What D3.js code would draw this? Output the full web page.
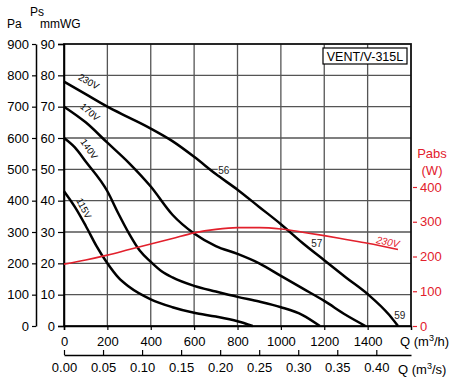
<!DOCTYPE html>
<html>
<head>
<meta charset="utf-8">
<script src="https://cdn.jsdelivr.net/npm/d3@7"></script>
<style>
  body { margin: 0; background: #fff; }
  svg { font-family: "Liberation Sans", Arial, sans-serif; }
</style>
</head>
<body>
<script>
// fan curves, Q in m3/h, Ps in mmWG
var curve230 = [[0,78],[100,74],[200,70],[300,66.5],[400,63],[500,59],[600,54],[700,48.5],[800,43.5],[900,38],[1000,32.5],[1100,26.5],[1200,21],[1300,15.5],[1400,10.2],[1500,3.5],[1540,0]];
var curve170 = [[0,70],[100,65],[200,58.5],[300,52],[400,44.5],[500,35.5],[600,29.5],[700,25.5],[800,23],[900,20],[1000,16],[1100,12],[1200,8],[1300,3.5],[1390,0]];
var curve140 = [[0,60],[50,57],[100,52.5],[200,43],[250,36],[300,29.5],[350,24],[400,20.5],[450,17.5],[500,15.5],[600,12.8],[700,11],[800,9.3],[900,7.8],[1000,6],[1100,3.5],[1180,0]];
var curve115 = [[0,43],[50,38],[100,32],[150,25.5],[200,20],[250,15.5],[300,12.5],[400,8.5],[500,6],[600,4.2],[700,3],[800,1.5],[870,0]];
// absorbed power at 230V, W
var pabs230 = [[0,178],[100,190],[200,204],[300,220],[400,236],[500,252],[600,268],[700,278],[800,283],[900,283],[1000,279],[1100,270],[1200,260],[1300,249],[1400,238],[1540,220]];

var qTicks = [0,200,400,600,800,1000,1200,1400];
var qsTicks = [0,0.05,0.10,0.15,0.20,0.25,0.30,0.35,0.40];
var psTicks = [0,10,20,30,40,50,60,70,80,90];
var paTicks = [0,100,200,300,400,500,600,700,800,900];
var wTicks = [0,100,200,300,400];

var voltLabels = [
  {t:'230V', q:114, p:78, a:30},
  {t:'170V', q:120, p:68.3, a:40},
  {t:'140V', q:116, p:56.5, a:55},
  {t:'115V', q:92, p:37.6, a:62}
];
var effLabels = [
  {t:'56', q:737, p:49.5},
  {t:'57', q:1166, p:26.2},
  {t:'59', q:1548, p:3.2}
];

var red = '#e2202c';
var svg = d3.select('body').append('svg')
    .attr('width', 450)
    .attr('height', 378);

var x = d3.scaleLinear().domain([0,1600]).range([64,411]);
var xs = d3.scaleLinear().domain([0,1600/3600]).range([64,411]);
var y = d3.scaleLinear().domain([0,90]).range([326,44]);
var yPa = d3.scaleLinear().domain([0,900]).range([326,44]);
var yW = d3.scaleLinear().domain([0,400]).range([326,187]);

// grid
var grid = svg.append('g');
grid.selectAll('.vg')
    .data(d3.range(200,1600,200))
    .enter().append('line')
    .attr('x1', function(d) {return x(d);})
    .attr('x2', function(d) {return x(d);})
    .attr('y1', y(0)).attr('y2', y(90))
    .style('stroke', '#555').style('stroke-width', 1.3);
grid.selectAll('.hg')
    .data(d3.range(10,90,10))
    .enter().append('line')
    .attr('y1', function(d) {return y(d);})
    .attr('y2', function(d) {return y(d);})
    .attr('x1', x(0)).attr('x2', x(1600))
    .style('stroke', '#555').style('stroke-width', 1.3);
grid.append('rect')
    .attr('x', x(0)).attr('y', y(90))
    .attr('width', x(1600) - x(0)).attr('height', y(0) - y(90))
    .style('fill', 'none').style('stroke', '#111').style('stroke-width', 1.8);

function styleAxis(g, color) {
  g.selectAll('path.domain').style('stroke', color).style('stroke-width', 1.5);
  g.selectAll('line').style('stroke', color).style('stroke-width', 1.2);
  g.selectAll('text').style('fill', color).style('font-size', '13px');
}

// mmWG axis
var gPs = svg.append('g').attr('transform', 'translate(' + x(0) + ',0)');
gPs.call(d3.axisLeft(y).tickValues(d3.range(0,91,2)).tickSize(3).tickFormat(''));
gPs.call(d3.axisLeft(y).tickValues(psTicks).tickSize(6).tickPadding(3).tickFormat(d3.format('d')));
styleAxis(gPs, '#000');

// Pa axis
var gPa = svg.append('g').attr('transform', 'translate(36,0)');
gPa.call(d3.axisLeft(yPa).tickValues(paTicks).tickSize(4).tickPadding(3).tickSizeOuter(0));
styleAxis(gPa, '#000');

// Q m3/h axis
var gQ = svg.append('g').attr('transform', 'translate(0,' + y(0) + ')');
gQ.call(d3.axisBottom(x).tickValues(d3.range(0,1601,50)).tickSize(3).tickFormat(''));
gQ.call(d3.axisBottom(x).tickValues(qTicks).tickSize(4).tickPadding(7).tickFormat(d3.format('d')));
styleAxis(gQ, '#000');

// Q m3/s axis
var gQs = svg.append('g').attr('transform', 'translate(0,355)');
gQs.call(d3.axisBottom(xs).tickValues(qsTicks).tickSize(-5).tickPadding(8).tickSizeOuter(0).tickFormat(d3.format('.2f')));
styleAxis(gQs, '#000');

// Pabs axis
var gW = svg.append('g').attr('transform', 'translate(413,0)');
gW.call(d3.axisRight(yW).tickValues(d3.range(0,401,20)).tickSize(2.5).tickFormat(''));
gW.call(d3.axisRight(yW).tickValues(wTicks).tickSize(4).tickPadding(3).tickFormat(d3.format('d')));
gW.selectAll('path.domain').remove();
styleAxis(gW, red);

// axis titles
function txt(t, px, py, opts) {
  opts = opts || {};
  return svg.append('text').attr('x', px).attr('y', py)
    .attr('text-anchor', opts.anchor || 'start')
    .style('font-size', (opts.size || 12) + 'px')
    .style('fill', opts.fill || '#000')
    .text(t);
}
txt('Ps', 30, 16);
txt('Pa', 7, 28);
txt('mmWG', 40, 28);
txt('Pabs', 432, 158, {anchor:'middle', fill:red, size:13});
txt('(W)', 432, 175, {anchor:'middle', fill:red, size:13});
svg.append('text').attr('x', 400).attr('y', 346).style('font-size', '13px')
  .html('Q (m<tspan dy="-5" font-size="9">3</tspan><tspan dy="5">/h)</tspan>');
svg.append('text').attr('x', 398).attr('y', 374).style('font-size', '13px')
  .html('Q (m<tspan dy="-5" font-size="9">3</tspan><tspan dy="5">/s)</tspan>');

// curves
var line = d3.line()
    .x(function(d) {return x(d[0]);})
    .y(function(d) {return y(d[1]);})
    .curve(d3.curveMonotoneX);
var wline = d3.line()
    .x(function(d) {return x(d[0]);})
    .y(function(d) {return yW(d[1]);})
    .curve(d3.curveMonotoneX);

svg.append('g').selectAll('.fan')
    .data([curve230, curve170, curve140, curve115])
    .enter().append('path')
    .attr('d', line)
    .style('fill', 'none').style('stroke', '#000').style('stroke-width', 2.5);

svg.append('path')
    .datum(pabs230)
    .attr('d', wline)
    .style('fill', 'none').style('stroke', red).style('stroke-width', 1.6);

// labels
svg.selectAll('.vl')
    .data(voltLabels)
    .enter().append('text')
    .attr('transform', function(d) {return 'translate(' + x(d.q) + ',' + y(d.p) + ') rotate(' + d.a + ')';})
    .attr('text-anchor', 'middle').attr('dy', '0.35em')
    .style('font-size', '9.5px')
    .text(function(d) {return d.t;});

svg.selectAll('.el')
    .data(effLabels)
    .enter().append('text')
    .attr('x', function(d) {return x(d.q);})
    .attr('y', function(d) {return y(d.p);})
    .attr('text-anchor', 'middle').attr('dy', '0.35em')
    .style('font-size', '10px').style('fill', '#222')
    .style('paint-order', 'stroke').style('stroke', '#fff').style('stroke-width', 2)
    .text(function(d) {return d.t;});

svg.append('text')
    .attr('transform', 'translate(' + x(1493) + ',' + yW(242) + ') rotate(12)')
    .attr('text-anchor', 'middle').attr('dy', '0.35em')
    .style('font-size', '10px').style('font-style', 'italic').style('fill', red)
    .text('230V');

// model box
svg.append('rect').attr('x', 323).attr('y', 48).attr('width', 84).attr('height', 16)
    .style('fill', '#fff').style('stroke', '#000').style('stroke-width', 1.2);
svg.append('text').attr('x', 365).attr('y', 60.5).attr('text-anchor', 'middle')
    .style('font-size', '12.5px').text('VENT/V-315L');
</script>
</body>
</html>
